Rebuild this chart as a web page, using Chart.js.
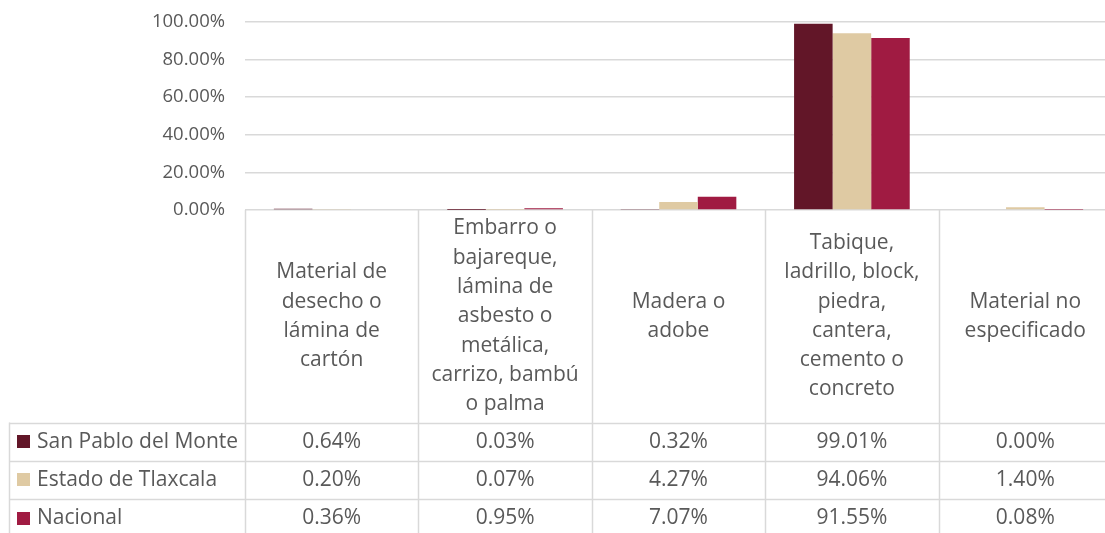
<!DOCTYPE html>
<html>
<head>
<meta charset="utf-8">
<script src="https://cdn.jsdelivr.net/npm/chart.js@4.4.1/dist/chart.umd.min.js"></script>
<style>
html,body{margin:0;padding:0;background:#fff;overflow:hidden;}
#wrap{width:1105px;height:533px;overflow:hidden;position:relative;}
canvas{display:block;}
</style>
</head>
<body>
<div id="wrap"><canvas id="c" width="1115" height="533"></canvas></div>
<script>
// ---- data ----
const categories = [
  ["Material de", "desecho o", "lámina de", "cartón"],
  ["Embarro o", "bajareque,", "lámina de", "asbesto o", "metálica,", "carrizo, bambú", "o palma"],
  ["Madera o", "adobe"],
  ["Tabique,", "ladrillo, block,", "piedra,", "cantera,", "cemento o", "concreto"],
  ["Material no", "especificado"]
];
const seriesNames = ["San Pablo del Monte", "Estado de Tlaxcala", "Nacional"];
const sanPablo = [0.64, 0.03, 0.32, 99.01, 0.00];
const tlaxcala = [0.20, 0.07, 4.27, 94.06, 1.40];
const nacional = [0.36, 0.95, 7.07, 91.55, 0.08];
const yTicks = [0, 20, 40, 60, 80, 100];
const colors = ["#621628", "#DFCAA3", "#A01B42"];

const TEXT = "#595959";
const GRID = "#d9d9d9";
const FONT = "'Open Sans', 'DejaVu Sans', sans-serif";

const tablePlugin = {
  id: "dataTable",
  afterDraw(chart) {
    const ctx = chart.ctx;
    const xs = chart.scales.x;
    const area = chart.chartArea;
    const n = categories.length;
    const colW = (area.right - area.left) / n;
    const top = area.bottom;
    const headerBottom = top + 212.5;
    const rowH = 38.3;
    const tableLeft = 9;
    const bottom = chart.height;
    ctx.save();
    ctx.strokeStyle = GRID;
    ctx.lineWidth = 1.5;
    for (let i = 0; i <= n; i++) {
      const x = Math.round(area.left + i * colW) + 0.5;
      ctx.beginPath(); ctx.moveTo(x, top); ctx.lineTo(x, bottom); ctx.stroke();
    }
    ctx.beginPath(); ctx.moveTo(tableLeft + 0.5, headerBottom); ctx.lineTo(tableLeft + 0.5, bottom); ctx.stroke();
    for (let r = 0; r <= seriesNames.length; r++) {
      const y = Math.round(headerBottom + r * rowH) + 0.5;
      ctx.beginPath(); ctx.moveTo(tableLeft, y); ctx.lineTo(chart.width, y); ctx.stroke();
    }
    ctx.fillStyle = TEXT;
    ctx.font = "21px " + FONT;
    ctx.textAlign = "center";
    ctx.textBaseline = "middle";
    const lh = 29.3;
    const midY = (top + headerBottom) / 2;
    categories.forEach((lines, i) => {
      const cx = xs.getPixelForValue(i);
      const y0 = midY - (lines.length - 1) * lh / 2;
      lines.forEach((t, k) => ctx.fillText(t, cx, y0 + k * lh));
    });
    chart.data.datasets.forEach((ds, r) => {
      const cy = headerBottom + r * rowH + rowH / 2;
      ctx.fillStyle = ds.backgroundColor;
      ctx.fillRect(17, Math.round(cy - 6.5), 13, 13);
      ctx.fillStyle = TEXT;
      ctx.textAlign = "left";
      ctx.fillText(ds.label, 37, cy);
      ctx.textAlign = "center";
      ds.data.forEach((v, i) => {
        ctx.fillText(v.toFixed(2) + "%", xs.getPixelForValue(i), cy);
      });
    });
    ctx.restore();
  }
};

new Chart(document.getElementById("c"), {
  type: "bar",
  data: {
    labels: categories.map(l => l.join(" ")),
    datasets: [
      { label: seriesNames[0], data: sanPablo, backgroundColor: colors[0] },
      { label: seriesNames[1], data: tlaxcala, backgroundColor: colors[1] },
      { label: seriesNames[2], data: nacional, backgroundColor: colors[2] }
    ]
  },
  options: {
    responsive: false,
    animation: false,
    devicePixelRatio: 1,
    layout: { padding: { top: 22, right: 3, left: 0, bottom: 0 } },
    datasets: { bar: { categoryPercentage: 0.667, barPercentage: 1.0, borderWidth: 0 } },
    plugins: { legend: { display: false }, tooltip: { enabled: false } },
    scales: {
      x: {
        grid: { display: false },
        border: { display: false },
        ticks: { display: false },
        afterFit(s) { s.height = 323; }
      },
      y: {
        min: 0, max: 100,
        afterBuildTicks(s) { s.ticks = yTicks.map(v => ({ value: v })); },
        afterFit(s) { s.width = 245; s.paddingTop = 0; s.paddingBottom = 0; },
        grid: { color: GRID, lineWidth: 1.5, drawTicks: false },
        border: { display: false },
        ticks: {
          padding: 20,
          color: TEXT,
          font: { family: FONT, size: 18.5 },
          callback: v => v.toFixed(2) + "%"
        }
      }
    }
  },
  plugins: [tablePlugin]
});
</script>
</body>
</html>
